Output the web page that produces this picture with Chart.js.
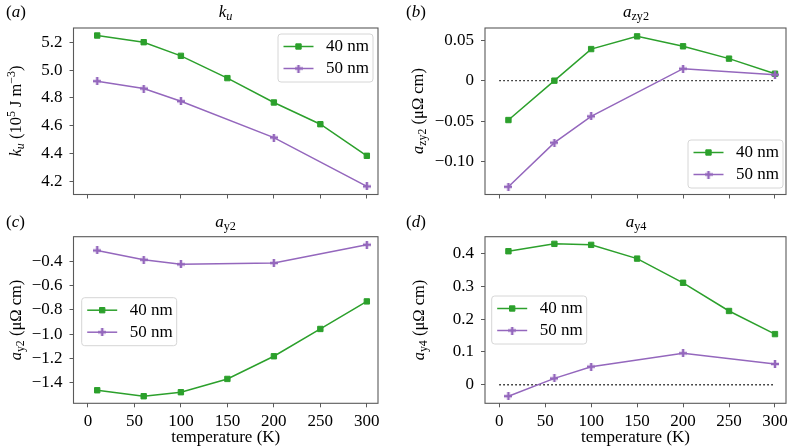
<!DOCTYPE html>
<html><head><meta charset="utf-8">
<script src="https://cdn.jsdelivr.net/npm/chart.js@4"></script>
<style>
html,body{margin:0;padding:0;background:#fff;width:791px;height:448px;overflow:hidden;}
#wrap{position:relative;width:791px;height:448px;font-family:"Liberation Serif","Times New Roman",serif;color:#000;}
canvas{position:absolute;}
.t{position:absolute;white-space:nowrap;font-size:17px;line-height:1;transform:translate(-50%,-50%);}
.yl{position:absolute;white-space:nowrap;font-size:16.5px;line-height:1;transform:translate(-50%,-50%) rotate(-90deg);}
.pl{position:absolute;white-space:nowrap;font-size:17px;line-height:1;transform:translateY(-50%);}
sub{font-size:0.72em;vertical-align:-0.3em;line-height:0}
sup{font-size:0.72em;vertical-align:0.45em;line-height:0}
</style></head>
<body><div id="wrap">
<canvas id="cA" width="395" height="220" style="left:0;top:0"></canvas>
<canvas id="cB" width="396" height="220" style="left:395px;top:0"></canvas>
<canvas id="cC" width="395" height="228" style="left:0;top:220px"></canvas>
<canvas id="cD" width="396" height="228" style="left:395px;top:220px"></canvas>

<div class="pl" style="left:6px;top:11px">(<i>a</i>)</div>
<div class="t" style="left:225.5px;top:11px"><i>k<sub>u</sub></i></div>
<div class="pl" style="left:406px;top:11px">(<i>b</i>)</div>
<div class="t" style="left:636px;top:11px"><i>a</i><sub>zy2</sub></div>
<div class="pl" style="left:6px;top:221px">(<i>c</i>)</div>
<div class="t" style="left:225.5px;top:221px"><i>a</i><sub>y2</sub></div>
<div class="pl" style="left:406px;top:221px">(<i>d</i>)</div>
<div class="t" style="left:636px;top:221px"><i>a</i><sub>y4</sub></div>

<div class="yl" style="left:16px;top:111px"><i>k<sub>u</sub></i> (10<sup>5</sup> J m<sup>−3</sup>)</div>
<div class="yl" style="left:418px;top:111px"><i>a</i><sub>zy2</sub> (μΩ cm)</div>
<div class="yl" style="left:16px;top:320px"><i>a</i><sub>y2</sub> (μΩ cm)</div>
<div class="yl" style="left:419px;top:320px"><i>a</i><sub>y4</sub> (μΩ cm)</div>
</div>
<script>
// ---------------- data ----------------
const seriesNames = ['40 nm', '50 nm'];
const temps40 = [10, 60, 100, 150, 200, 250, 300];
const temps50 = [10, 60, 100, 200, 300];

const ku40 = [5.248, 5.200, 5.102, 4.942, 4.767, 4.611, 4.384];
const ku50 = [4.920, 4.867, 4.776, 4.515, 4.164];

const azy2_40 = [-0.0486, 0.0000, 0.0390, 0.0547, 0.0424, 0.0272, 0.0086];
const azy2_50 = [-0.1310, -0.0765, -0.0440, 0.0148, 0.0074];

const ay2_40 = [-1.460, -1.509, -1.476, -1.367, -1.181, -0.957, -0.731];
const ay2_50 = [-0.313, -0.389, -0.427, -0.416, -0.266];

const ay4_40 = [0.4072, 0.4297, 0.4266, 0.3847, 0.3110, 0.2250, 0.1545];
const ay4_50 = [-0.0348, 0.0194, 0.0552, 0.0962, 0.0634];

const xTicks = [0, 50, 100, 150, 200, 250, 300];
const xTickLabels = ['0', '50', '100', '150', '200', '250', '300'];
const xRange = [-15.5, 312];
const zeroLineX = [0, 300];

const kuTicks = [4.2, 4.4, 4.6, 4.8, 5.0, 5.2];
const kuTickLabels = ['4.2', '4.4', '4.6', '4.8', '5.0', '5.2'];
const kuRange = [4.106, 5.302];

const azy2Ticks = [-0.10, -0.05, 0, 0.05];
const azy2TickLabels = ['−0.10', '−0.05', '0', '0.05'];
const azy2Range = [-0.1405, 0.0650];

const ay2Ticks = [-1.4, -1.2, -1.0, -0.8, -0.6, -0.4];
const ay2TickLabels = ['−1.4', '−1.2', '−1.0', '−0.8', '−0.6', '−0.4'];
const ay2Range = [-1.567, -0.200];

const ay4Ticks = [0, 0.1, 0.2, 0.3, 0.4];
const ay4TickLabels = ['0', '0.1', '0.2', '0.3', '0.4'];
const ay4Range = [-0.0565, 0.4515];

// ---------------- styling ----------------
const GREEN = '#2ca02c';
const PURPLE = '#9467bd';
const FRAME = '#5a5a5a';
const FONT = '"Liberation Serif", "Times New Roman", serif';

function plusMarker(color) {
  const c = document.createElement('canvas');
  c.width = 8; c.height = 8;
  const g = c.getContext('2d');
  g.fillStyle = color;
  g.fillRect(2.75, 0, 2.5, 8);
  g.fillRect(0, 2.75, 8, 2.5);
  return c;
}
const plusStyle = plusMarker(PURPLE);

const framePlugin = {
  id: 'frame',
  afterDraw(chart) {
    const a = chart.chartArea, ctx = chart.ctx;
    ctx.save();
    ctx.strokeStyle = FRAME;
    ctx.lineWidth = 1.1;
    ctx.strokeRect(a.left, a.top, a.right - a.left, a.bottom - a.top);
    const L = chart.options.plugins.mplLegend;
    if (L) {
      const w = 95, h = 48, r = 3;
      ctx.beginPath();
      ctx.moveTo(L.x + r, L.y);
      ctx.arcTo(L.x + w, L.y, L.x + w, L.y + h, r);
      ctx.arcTo(L.x + w, L.y + h, L.x, L.y + h, r);
      ctx.arcTo(L.x, L.y + h, L.x, L.y, r);
      ctx.arcTo(L.x, L.y, L.x + w, L.y, r);
      ctx.closePath();
      ctx.fillStyle = 'rgba(255,255,255,0.85)';
      ctx.fill();
      ctx.strokeStyle = '#d6d6d6';
      ctx.lineWidth = 1;
      ctx.stroke();
      for (let i = 0; i < 2; i++) {
        const ds = chart.data.datasets[i];
        const yy = L.y + 12.5 + i * 22;
        ctx.strokeStyle = ds.borderColor;
        ctx.lineWidth = 1.5;
        ctx.beginPath();
        ctx.moveTo(L.x + 5.5, yy);
        ctx.lineTo(L.x + 35.5, yy);
        ctx.stroke();
        ctx.fillStyle = ds.pointBackgroundColor;
        ctx.strokeStyle = ds.pointBorderColor;
        ctx.lineWidth = ds.pointBorderWidth;
        Chart.helpers.drawPoint(ctx, {pointStyle: ds.pointStyle, radius: ds.pointRadius, borderWidth: ds.pointBorderWidth, rotation: 0}, L.x + 20.5, yy);
        ctx.fillStyle = '#000';
        ctx.font = '17px ' + FONT;
        ctx.textBaseline = 'middle';
        ctx.textAlign = 'left';
        ctx.fillText(ds.label, L.x + 48, yy + 0.5);
      }
    }
    ctx.restore();
  }
};

function pts(xs, ys) { return xs.map((x, i) => ({x: x, y: ys[i]})); }

function makePanel(id, cfg) {
  const cv = document.getElementById(id);
  const datasets = [
    {label: seriesNames[0], data: pts(temps40, cfg.y40), borderColor: GREEN, backgroundColor: GREEN,
     pointBackgroundColor: GREEN, pointBorderColor: GREEN, pointStyle: 'rect', pointRadius: 3.8, pointBorderWidth: 1,
     borderWidth: 1.5, tension: 0, order: 2},
    {label: seriesNames[1], data: pts(temps50, cfg.y50), borderColor: PURPLE, backgroundColor: PURPLE,
     pointBackgroundColor: PURPLE, pointBorderColor: PURPLE, pointStyle: plusStyle, pointRadius: 4, pointBorderWidth: 0,
     borderWidth: 1.5, tension: 0, order: 1}
  ];
  if (cfg.zero) {
    datasets.push({label: 'zero', data: pts(zeroLineX, [0, 0]), borderColor: '#222', borderWidth: 1.3,
      borderDash: [1.6, 2.4], pointRadius: 0, tension: 0, order: 3});
  }
  const yLab = {};
  cfg.yTicks.forEach((v, i) => yLab[v] = cfg.yLabels[i]);
  const xLab = {};
  xTicks.forEach((v, i) => xLab[v] = xTickLabels[i]);
  new Chart(cv, {
    type: 'line',
    data: {datasets: datasets},
    options: {
      responsive: false, animation: false, devicePixelRatio: 1,
      layout: {padding: {left: 0, top: cfg.padTop, right: cfg.padRight, bottom: 0}},
      plugins: {legend: {display: false}, tooltip: {enabled: false}, mplLegend: cfg.legend},
      scales: {
        x: {
          type: 'linear', min: xRange[0], max: xRange[1],
          afterBuildTicks: s => { s.ticks = xTicks.map(v => ({value: v})); },
          afterFit: s => { s.height = cfg.xH; s.paddingLeft = 0; s.paddingRight = 0; s.paddingTop = 0; s.paddingBottom = 0; },
          grid: {drawOnChartArea: false, drawTicks: true, tickLength: 4, color: FRAME, lineWidth: 1},
          border: {display: false},
          ticks: {display: cfg.showX, autoSkip: false, maxRotation: 0, padding: 4, color: '#000',
                  font: {family: FONT, size: 17}, callback: v => xLab[v] !== undefined ? xLab[v] : ''},
          title: {display: cfg.showX, text: 'temperature (K)', color: '#000', font: {family: FONT, size: 17},
                  padding: {top: 0, bottom: 0}}
        },
        y: {
          type: 'linear', min: cfg.yRange[0], max: cfg.yRange[1],
          afterBuildTicks: s => { s.ticks = cfg.yTicks.map(v => ({value: v})); },
          afterFit: s => { s.width = cfg.yW; s.paddingLeft = 0; s.paddingRight = 0; s.paddingTop = 0; s.paddingBottom = 0; },
          grid: {drawOnChartArea: false, drawTicks: true, tickLength: 4, color: FRAME, lineWidth: 1},
          border: {display: false},
          ticks: {autoSkip: false, padding: 7, color: '#000', font: {family: FONT, size: 17},
                  callback: v => yLab[v] !== undefined ? yLab[v] : ''}
        }
      }
    },
    plugins: [framePlugin]
  });
}

function build() {
  makePanel('cA', {y40: ku40, y50: ku50, yRange: kuRange, yTicks: kuTicks, yLabels: kuTickLabels,
    padTop: 28, padRight: 17, yW: 73.5, xH: 25.5, showX: false, zero: false, legend: {x: 278, y: 34}});
  makePanel('cB', {y40: azy2_40, y50: azy2_50, yRange: azy2Range, yTicks: azy2Ticks, yLabels: azy2TickLabels,
    padTop: 28, padRight: 4, yW: 90, xH: 25.5, showX: false, zero: true, legend: {x: 293, y: 140}});
  makePanel('cC', {y40: ay2_40, y50: ay2_50, yRange: ay2Range, yTicks: ay2Ticks, yLabels: ay2TickLabels,
    padTop: 16.7, padRight: 17, yW: 73.5, xH: 44.7, showX: true, zero: false, legend: {x: 81.7, y: 77.7}});
  makePanel('cD', {y40: ay4_40, y50: ay4_50, yRange: ay4Range, yTicks: ay4Ticks, yLabels: ay4TickLabels,
    padTop: 16.7, padRight: 3.5, yW: 90, xH: 44.7, showX: true, zero: true, legend: {x: 96.7, y: 76}});
}
if (document.fonts && document.fonts.load) {
  document.fonts.load('17px "Liberation Serif"').then(build, build);
} else { build(); }
</script>
</body></html>
